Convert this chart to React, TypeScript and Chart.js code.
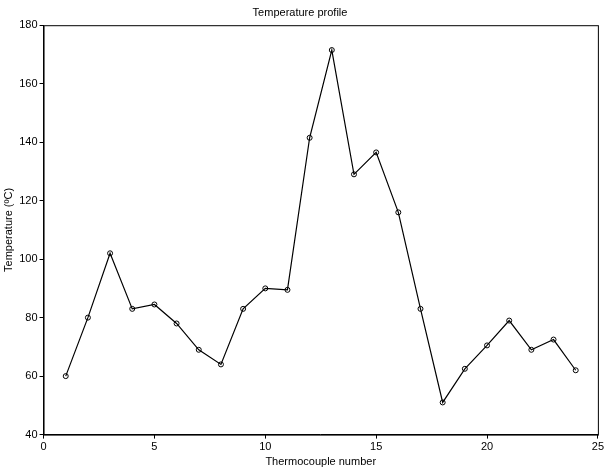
import React, { useEffect, useRef } from 'react';
import { Chart, registerables } from 'chart.js';

Chart.register(...registerables);

const thermocouples = [1, 2, 3, 4, 5, 6, 7, 8, 9, 10, 11, 12, 13, 14, 15, 16, 17, 18, 19, 20, 21, 22, 23, 24];
const temperatures = [60, 80, 102, 83, 84.5, 78, 69, 64, 83, 90, 89.5, 141.5, 171.5, 129, 136.5, 116, 83, 51, 62.5, 70.5, 79, 69, 72.5, 62];

// draw a full box around the plot area, matlab style
const boxPlugin = {
  id: 'box',
  afterDraw(chart: any) {
    const { ctx, chartArea: a } = chart;
    ctx.save();
    ctx.strokeStyle = '#000';
    ctx.lineWidth = 1;
    ctx.strokeRect(a.left + 0.5, a.top + 0.5, a.right - a.left, a.bottom - a.top);
    ctx.restore();
  },
};

const App: React.FC = () => {
  const canvasRef = useRef<HTMLCanvasElement | null>(null);
  const chartRef = useRef<Chart | null>(null);

  useEffect(() => {
    document.body.style.margin = '0';
    if (!canvasRef.current) return;
    const ctx = canvasRef.current.getContext('2d');
    if (!ctx) return;
    if (chartRef.current) chartRef.current.destroy();

    const font = { family: '"Liberation Sans", Arial, sans-serif', size: 11 };
    chartRef.current = new Chart(ctx, {
      type: 'scatter',
      data: {
        datasets: [
          {
            data: thermocouples.map((x, i) => ({ x, y: temperatures[i] })),
            showLine: true,
            borderColor: '#000',
            borderWidth: 1.2,
            pointRadius: 2.5,
            pointBorderWidth: 1,
            pointBackgroundColor: 'rgba(0,0,0,0)',
            pointBorderColor: '#000',
          },
        ],
      },
      options: {
        animation: false,
        responsive: false,
        layout: { padding: { right: 6, left: 0, top: 0, bottom: 0 } },
        plugins: {
          legend: { display: false },
          tooltip: { enabled: false },
          title: {
            display: true,
            text: 'Temperature profile',
            color: '#000',
            font: { ...font, weight: 'normal' },
            padding: { top: 6, bottom: 6 },
          },
        },
        scales: {
          x: {
            type: 'linear',
            min: 0,
            max: 25,
            ticks: { stepSize: 5, color: '#000', font, padding: 2 },
            grid: { display: true, drawOnChartArea: false, tickLength: 4, color: '#000' },
            border: { color: '#000' },
            title: { display: true, text: 'Thermocouple number', color: '#000', font, padding: 0 },
          },
          y: {
            min: 40,
            max: 180,
            ticks: { stepSize: 20, color: '#000', font, padding: 2 },
            grid: { display: true, drawOnChartArea: false, tickLength: 4, color: '#000' },
            border: { color: '#000' },
            title: { display: true, text: 'Temperature (ºC)', color: '#000', font, padding: 2 },
          },
        },
      },
      plugins: [boxPlugin],
    });

    return () => {
      if (chartRef.current) chartRef.current.destroy();
    };
  }, []);

  return (
    <div style={{ width: 606, height: 469, background: '#fff' }}>
      <canvas ref={canvasRef} width={606} height={469}></canvas>
    </div>
  );
};

export default App;
